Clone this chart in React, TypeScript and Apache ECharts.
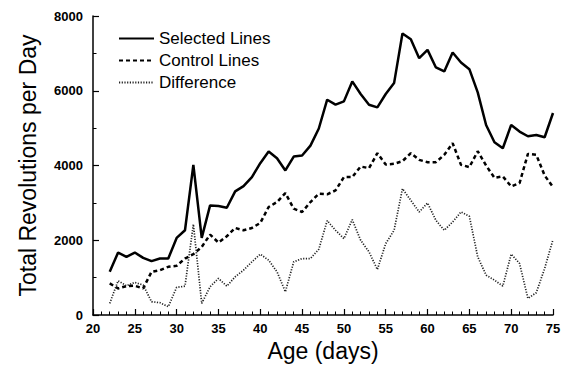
import React, { useEffect, useRef } from "react";
import * as echarts from "echarts";

const days = [22,23,24,25,26,27,28,29,30,31,32,33,34,35,36,37,38,39,40,41,42,43,44,45,46,47,48,49,50,51,52,53,54,55,56,57,58,59,60,61,62,63,64,65,66,67,68,69,70,71,72,73,74,75];
const selected = [1156,1671,1556,1671,1529,1440,1511,1511,2062,2267,4018,2062,2933,2916,2871,3307,3449,3689,4062,4373,4196,3867,4240,4267,4533,4990,5760,5627,5716,6250,5912,5627,5556,5912,6205,7530,7378,6872,7094,6623,6516,7023,6756,6578,5956,5085,4622,4462,5085,4907,4782,4818,4756,5405];
const control = [845,711,773,782,711,1156,1200,1289,1316,1511,1627,1822,2151,1938,2107,2329,2267,2329,2462,2889,3022,3262,2845,2756,3022,3244,3230,3333,3689,3689,3973,3929,4329,4027,4045,4116,4329,4151,4089,4089,4285,4596,4018,3956,4382,4000,3671,3707,3440,3529,4311,4285,3733,3422];
const difference = [311,916,782,871,800,356,329,222,738,773,2427,311,756,978,773,1022,1200,1422,1627,1467,1156,622,1422,1511,1511,1760,2525,2267,2044,2551,2000,1689,1218,1911,2267,3378,3067,2756,2996,2533,2267,2489,2756,2640,1556,1067,933,773,1627,1378,444,596,1245,2018];
const seriesNames = ["Selected Lines", "Control Lines", "Difference"];

const FONT = "'Liberation Sans', Arial, Helvetica, sans-serif";

export default function App() {
  const ref = useRef<HTMLDivElement>(null);
  useEffect(() => {
    if (!ref.current) return;
    const chart = echarts.init(ref.current, undefined, { renderer: "svg" });
    const pairs = (vals: number[]) => days.map((d, i) => [d, vals[i]]);
    chart.setOption({
      animation: false,
      backgroundColor: "#fff",
      textStyle: { fontFamily: FONT },
      grid: { left: 93, right: 11, top: 16, bottom: 55 },
      legend: {
        orient: "vertical",
        left: 113,
        top: 25,
        itemWidth: 35,
        itemHeight: 14,
        itemGap: 5,
        data: seriesNames,
        itemStyle: { opacity: 0 },
        textStyle: { fontFamily: FONT, fontSize: 17, color: "#000" },
      },
      xAxis: {
        type: "value",
        min: 20,
        max: 75,
        interval: 5,
        name: "Age (days)",
        nameLocation: "middle",
        nameGap: 22,
        nameTextStyle: { fontFamily: FONT, fontSize: 23, color: "#000" },
        axisLine: { show: true, lineStyle: { color: "#000", width: 1.5 } },
        axisTick: { show: true, inside: true, length: 6, lineStyle: { color: "#000", width: 1.2 } },
        minorTick: { show: true, splitNumber: 5, length: 3.5, lineStyle: { color: "#000", width: 1 } },
        axisLabel: { fontFamily: FONT, fontSize: 13, fontWeight: 700, color: "#000", margin: 7, formatter: (v: number) => String(v) },
        splitLine: { show: false },
      },
      yAxis: {
        type: "value",
        min: 0,
        max: 8000,
        interval: 2000,
        name: "Total Revolutions per Day",
        nameLocation: "middle",
        nameRotate: 90,
        nameGap: 54,
        nameTextStyle: { fontFamily: FONT, fontSize: 23, color: "#000" },
        axisLine: { show: true, lineStyle: { color: "#000", width: 1.5 } },
        axisTick: { show: true, inside: true, length: 6, lineStyle: { color: "#000", width: 1.2 } },
        minorTick: { show: true, splitNumber: 2, length: 3.5, lineStyle: { color: "#000", width: 1 } },
        axisLabel: { fontFamily: FONT, fontSize: 13, fontWeight: 700, color: "#000", margin: 10, formatter: (v: number) => String(v) },
        splitLine: { show: false },
      },
      series: [
        {
          name: seriesNames[0],
          type: "line",
          data: pairs(selected),
          symbol: "none",
          lineStyle: { color: "#000", width: 2.5, type: "solid" },
          itemStyle: { color: "#000" },
        },
        {
          name: seriesNames[1],
          type: "line",
          data: pairs(control),
          symbol: "none",
          lineStyle: { color: "#000", width: 2.5, type: [4, 3] },
          itemStyle: { color: "#000" },
        },
        {
          name: seriesNames[2],
          type: "line",
          data: pairs(difference),
          symbol: "none",
          lineStyle: { color: "#222", width: 1.7, type: [1.2, 1.5] },
          itemStyle: { color: "#222" },
        },
      ],
    });
    return () => chart.dispose();
  }, []);
  return (
    <div
      ref={ref}
      style={{ position: "fixed", left: 0, top: 0, width: 564, height: 370 }}
    />
  );
}
